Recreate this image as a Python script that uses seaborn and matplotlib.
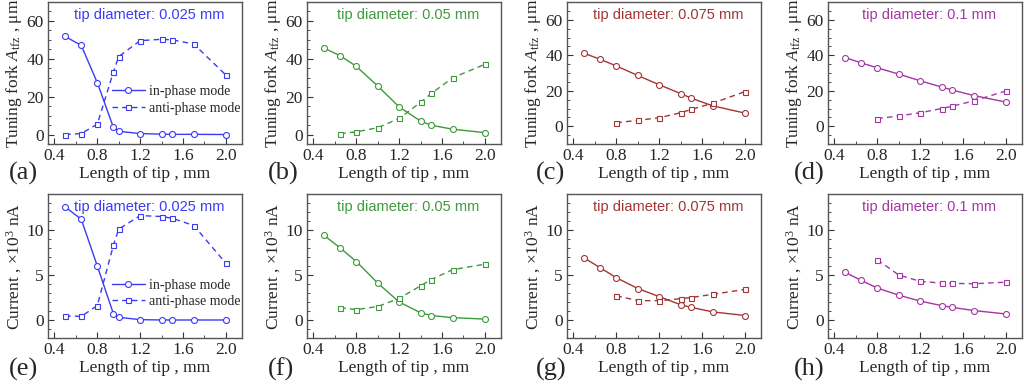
import numpy as np
import pandas as pd
import matplotlib
matplotlib.use('Agg')
import matplotlib.pyplot as plt
from matplotlib.ticker import MultipleLocator
import seaborn as sns

# tip lengths (mm)
x_a_in = [0.5, 0.65, 0.8, 0.95, 1.0, 1.2, 1.4, 1.5, 1.7, 2.0]
x_b_in = [0.5, 0.65, 0.8, 1.0, 1.2, 1.4, 1.5, 1.7, 2.0]
x_b_anti = [0.65, 0.8, 1.0, 1.2, 1.4, 1.5, 1.7, 2.0]
x_cd_anti = [0.8, 1.0, 1.2, 1.4, 1.5, 1.7, 2.0]

# tuning fork amplitude (um)
amp_a_in = [51.8, 47.1, 27.4, 3.8, 1.7, 0.5, 0.2, 0.1, 0.1, 0.0]
amp_a_anti = [0.0, 0.5, 5.5, 33.0, 41.2, 49.6, 50.3, 50.0, 47.8, 31.4]
amp_b_in = [45.6, 41.6, 36.0, 25.6, 14.6, 7.1, 4.9, 2.8, 1.0]
amp_b_anti = [0.5, 1.4, 3.6, 8.5, 17.0, 21.7, 30.0, 37.1]
amp_c_in = [41.1, 37.7, 34.0, 28.6, 23.4, 18.4, 15.8, 11.5, 7.4]
amp_c_anti = [2.0, 3.3, 4.8, 7.6, 9.5, 13.0, 19.5]
amp_d_in = [38.7, 35.7, 32.9, 29.4, 25.6, 22.1, 20.4, 17.3, 13.6]
amp_d_anti = [4.3, 5.8, 7.6, 10.0, 11.3, 14.3, 19.9]

# current (x10^3 nA)
cur_e_in = [12.56, 11.2, 6.0, 0.7, 0.3, 0.04, 0.0, 0.0, 0.0, 0.0]
cur_e_anti = [0.45, 0.4, 1.6, 8.3, 10.1, 11.6, 11.5, 11.3, 10.5, 6.3]
cur_f_in = [9.4, 8.0, 6.5, 4.1, 2.0, 0.8, 0.5, 0.26, 0.1]
cur_f_anti = [1.37, 1.15, 1.5, 2.4, 3.8, 4.5, 5.6, 6.2]
cur_g_in = [6.9, 5.8, 4.7, 3.5, 2.6, 1.7, 1.4, 0.9, 0.5]
cur_g_anti = [2.7, 2.15, 2.15, 2.37, 2.5, 2.85, 3.4]
cur_h_in = [5.3, 4.4, 3.55, 2.76, 2.1, 1.6, 1.4, 1.05, 0.67]
cur_h_anti = [6.7, 5.0, 4.3, 4.1, 4.07, 4.03, 4.2]

diameters = ['0.025', '0.05', '0.075', '0.1']
colors = ['#3b3bf5', '#3d9a3d', '#a33535', '#a535a5']
letters = ['(a)', '(b)', '(c)', '(d)', '(e)', '(f)', '(g)', '(h)']

panels = [
    (x_a_in, amp_a_in, x_a_in, amp_a_anti),
    (x_b_in, amp_b_in, x_b_anti, amp_b_anti),
    (x_b_in, amp_c_in, x_cd_anti, amp_c_anti),
    (x_b_in, amp_d_in, x_cd_anti, amp_d_anti),
    (x_a_in, cur_e_in, x_a_in, cur_e_anti),
    (x_b_in, cur_f_in, x_b_anti, cur_f_anti),
    (x_b_in, cur_g_in, x_cd_anti, cur_g_anti),
    (x_b_in, cur_h_in, x_cd_anti, cur_h_anti),
]

sns.set_style('ticks')
plt.rcParams['font.family'] = ['Liberation Serif', 'DejaVu Serif']
plt.rcParams['mathtext.fontset'] = 'custom'
plt.rcParams['mathtext.rm'] = 'Liberation Serif'
plt.rcParams['mathtext.it'] = 'Liberation Serif:italic'
plt.rcParams['xtick.direction'] = 'in'
plt.rcParams['ytick.direction'] = 'in'

fig = plt.figure(figsize=(10.24, 3.83), dpi=100)
W, H = 1024, 383
lefts = [48, 307, 567, 828]
letter_x = [9, 268, 536, 794]

for i, (xin, yin, xan, yan) in enumerate(panels):
    row, col = divmod(i, 4)
    c = colors[col]
    if row == 0:
        top, bot = 2, 144
    else:
        top, bot = 194, 338
    ax = fig.add_axes([lefts[col] / W, 1 - bot / H, 194 / W, (bot - top) / H])

    df_in = pd.DataFrame({'length': xin, 'value': yin})
    df_an = pd.DataFrame({'length': xan, 'value': yan})
    sns.lineplot(data=df_in, x='length', y='value', ax=ax, color=c, lw=1.0,
                 marker='o', markersize=4.3, markerfacecolor='white',
                 markeredgecolor=c, markeredgewidth=0.8, label='in-phase mode')
    sns.lineplot(data=df_an, x='length', y='value', ax=ax, color=c, lw=1.0,
                 linestyle=(0, (4, 3)), marker='s', markersize=3.6,
                 markerfacecolor='white', markeredgecolor=c,
                 markeredgewidth=0.8, label='anti-phase mode')

    ax.set_xlim(0.34, 2.15)
    ax.xaxis.set_minor_locator(MultipleLocator(0.2))
    ax.set_xticks([0.4, 0.8, 1.2, 1.6, 2.0])
    ax.set_xticklabels(['0.4', '0.8', '1.2', '1.6', '2.0'])
    if row == 0:
        ax.set_ylim(-5 if col < 2 else -10, 70)
        ax.set_yticks([0, 20, 40, 60])
        ax.yaxis.set_minor_locator(MultipleLocator(5))
        ax.set_ylabel(r'Tuning fork $A_{\mathrm{tfz}}$ , μm', fontsize=12.5, labelpad=2)
    else:
        ax.set_ylim(-2, 14)
        ax.set_yticks([0, 5, 10])
        ax.yaxis.set_minor_locator(MultipleLocator(1))
        ax.set_ylabel(r'Current , ×10$^{3}$ nA', fontsize=12.5, labelpad=2)
    ax.set_xlabel('Length of tip , mm', fontsize=12.5, labelpad=1)
    ax.tick_params(which='major', length=4, labelsize=12.5, pad=3, color='#333333')
    ax.tick_params(which='minor', length=2, color='#333333')
    for s in ax.spines.values():
        s.set_color('#555555')
        s.set_linewidth(1.0)

    ax.text(0.52, 0.91, f'tip diameter: {diameters[col]} mm', transform=ax.transAxes,
            ha='center', va='center', color=c, fontsize=10.5,
            family=['Liberation Sans', 'DejaVu Sans'])

    if i in (0, 4):
        ax.legend(loc='center left', bbox_to_anchor=(0.3, 0.31), frameon=False,
                  fontsize=10, handlelength=2.4, handletextpad=0.3,
                  labelspacing=0.25, borderaxespad=0)
    else:
        ax.get_legend().remove()

    ly = 173 if row == 0 else 369
    fig.text(letter_x[col] / W, 1 - ly / H, letters[i], ha='left', va='center',
             fontsize=19)

fig.savefig('out.png', dpi=100)
